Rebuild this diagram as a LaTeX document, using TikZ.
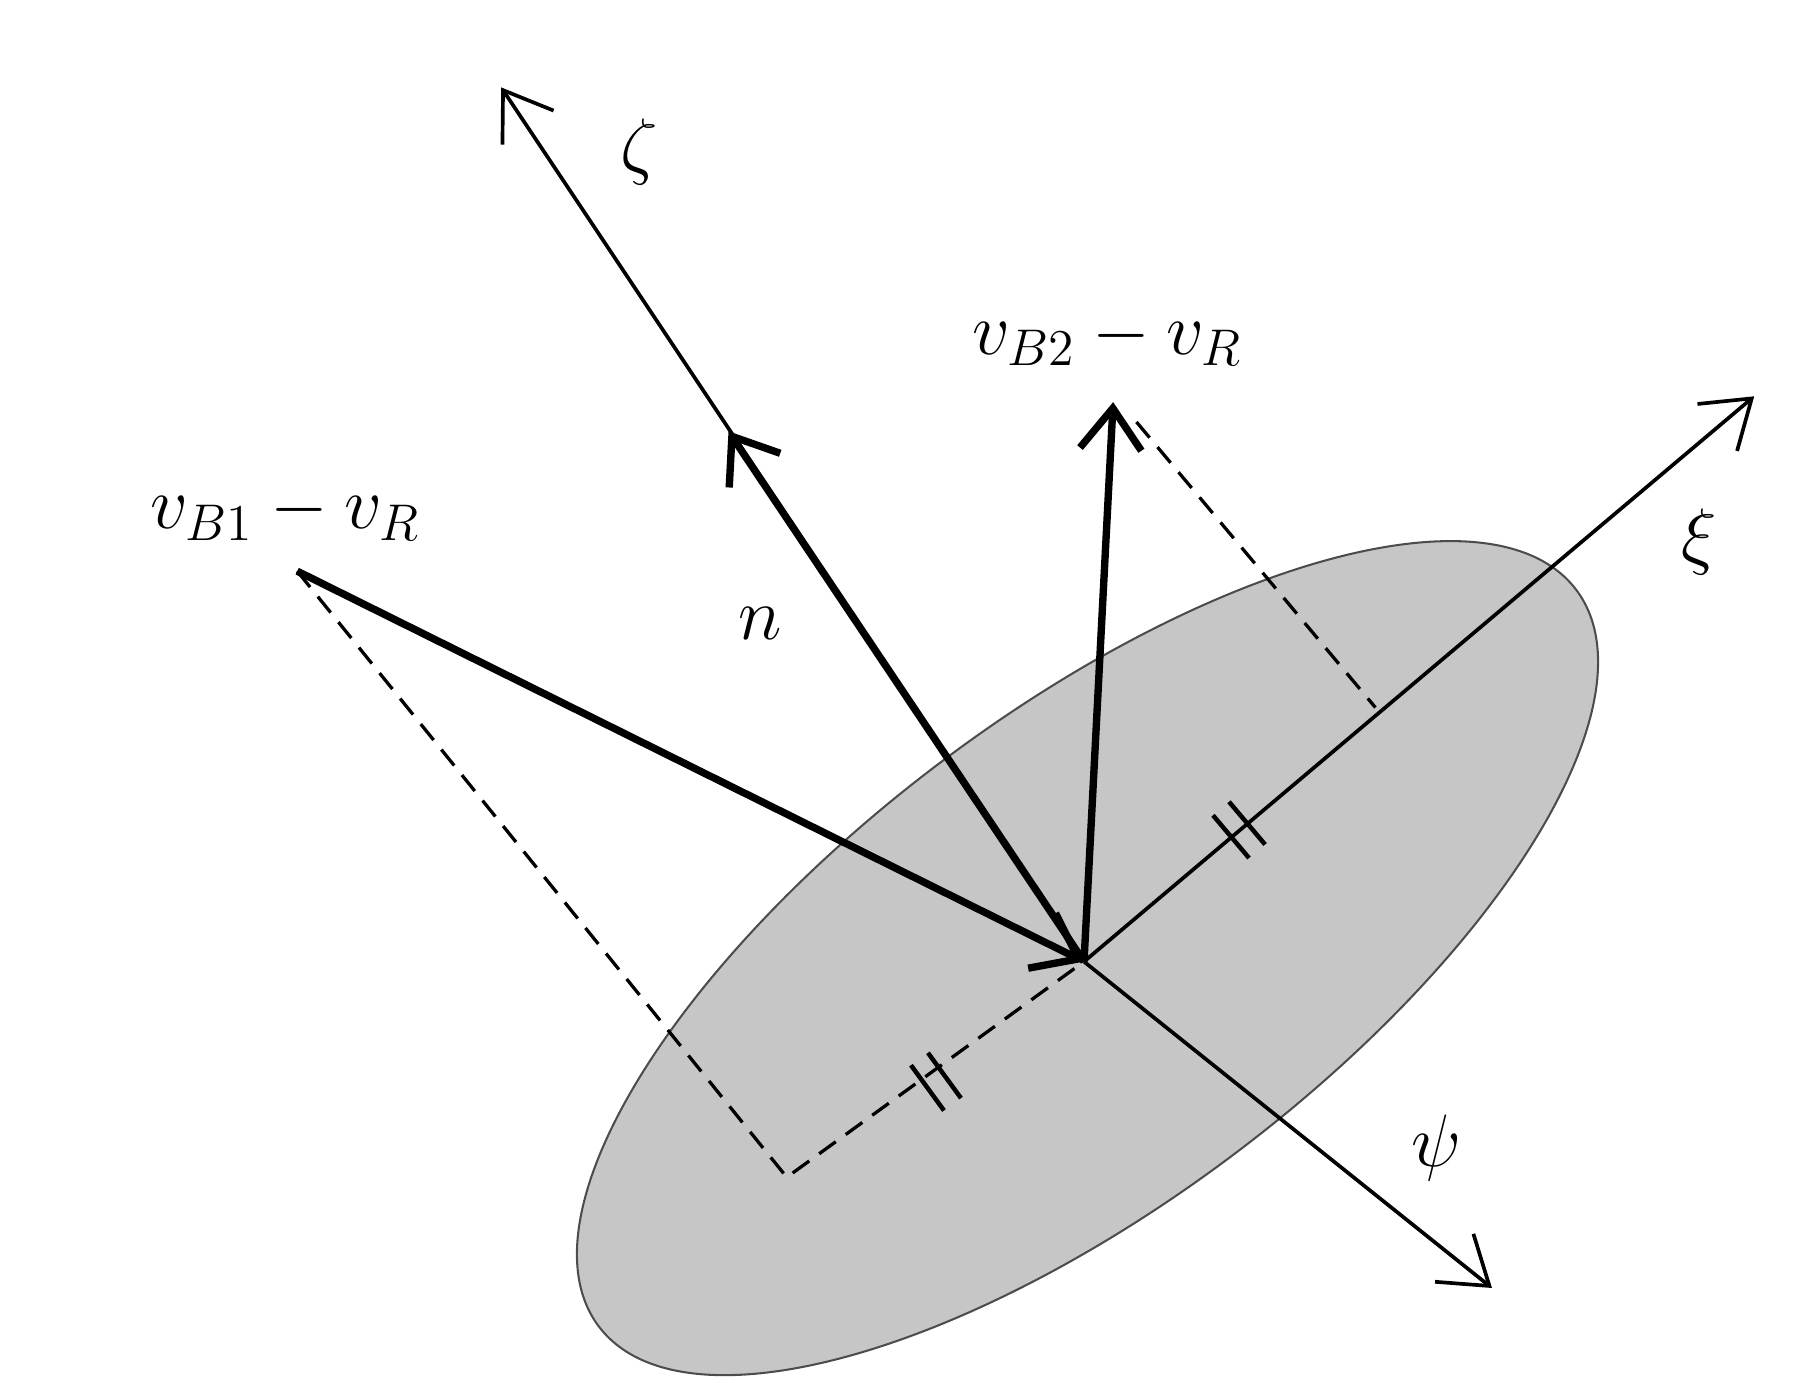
\documentclass[tikz,border=0pt]{standalone}
\usetikzlibrary{arrows.meta,calc}
\begin{document}
\begin{tikzpicture}[x=0.02cm,y=-0.02cm,
  thin axis/.style={line width=1.8pt,-{Straight Barb[length=22pt,width=30pt,line width=1.8pt]}},
  thick vec/.style={line width=3.6pt,-{Straight Barb[length=20pt,width=30pt,line width=3.6pt]}},
  dash line/.style={line width=1.6pt,dash pattern=on 10pt off 6pt},
  lbl/.style={font=\LARGE,scale=2.1}]
\useasboundingbox (0,0) rectangle (1552,1200);
\fill[gray!45,draw=gray!60!black,line width=1pt] (933,822) ellipse [x radius=525, y radius=210, rotate=37];
\coordinate (O) at (930,825);
\coordinate (Z) at (430,75);
\coordinate (X) at (1505,340);
\coordinate (P) at (1280,1105);
\coordinate (A) at (255,490);
\coordinate (B) at (955,345);
\coordinate (N) at (625,370);
\coordinate (C) at (675,1010);
\coordinate (F) at (1180,607);
\draw[thin axis] (O) -- (Z);
\draw[thin axis] (O) -- (X);
\draw[thin axis] (O) -- (P);
\draw[dash line] (A) -- (C) -- (O);
\draw[dash line] (975,362) -- (F);
\draw[thick vec] (A) -- (O);
\draw[thick vec] (O) -- (B);
\draw[thick vec] (O) -- (N);
\begin{scope}[line width=2.2pt]
\foreach \s in {-9,9}{
 \draw ($(1063,712)+(\s*0.764,-\s*0.645)+(0.645*24,0.764*24)$) -- ($(1063,712)+(\s*0.764,-\s*0.645)-(0.645*24,0.764*24)$);
 \draw ($(803,928)+(\s*0.81,-\s*0.59)+(0.59*24,0.81*24)$) -- ($(803,928)+(\s*0.81,-\s*0.59)-(0.59*24,0.81*24)$);
}
\end{scope}
\node[lbl] (l1) at (245,440) {$v_{B1}-v_R$};
\node[lbl] (l2) at (950,290) {$v_{B2}-v_R$};
\node[lbl] (ln) at (652,535) {$n$};
\node[lbl] (lz) at (548,130) {$\zeta$};
\node[lbl] (lx) at (1458,465) {$\xi$};
\node[lbl] (lp) at (1232,985) {$\psi$};
\end{tikzpicture}
\end{document}
